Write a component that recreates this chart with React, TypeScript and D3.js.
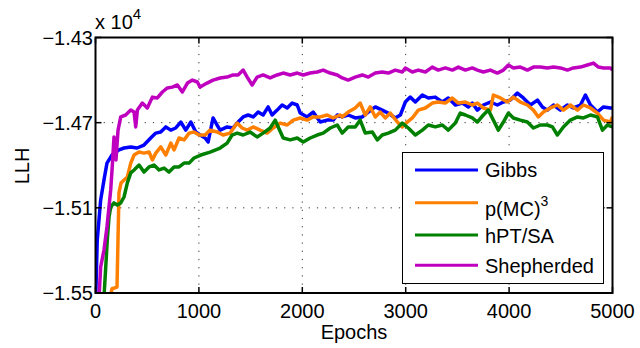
import React from 'react';
import * as d3 from 'd3';

// values (epochs, LLH)
const gibbsEpochs = [2, 17, 50, 82, 111, 160, 227, 276, 341, 402, 469, 534, 583, 631, 680, 728, 776, 825, 873, 922, 970, 1012, 1060, 1089, 1137, 1176, 1205, 1273, 1331, 1379, 1428, 1476, 1525, 1573, 1621, 1670, 1708, 1757, 1805, 1854, 1902, 1951, 1980, 2047, 2105, 2173, 2241, 2299, 2338, 2386, 2444, 2512, 2580, 2638, 2706, 2773, 2831, 2899, 2948, 2996, 3044, 3093, 3161, 3219, 3286, 3354, 3412, 3480, 3548, 3606, 3644, 3693, 3751, 3819, 3886, 3945, 4012, 4080, 4138, 4206, 4274, 4322, 4370, 4429, 4496, 4564, 4622, 4690, 4738, 4787, 4854, 4913, 4980, 5000];
const gibbsLLH = [-15520, -15251, -15063, -14969, -14890, -14852, -14828, -14819, -14814, -14819, -14805, -14772, -14749, -14744, -14720, -14735, -14725, -14697, -14735, -14697, -14744, -14758, -14772, -14791, -14678, -14711, -14735, -14720, -14725, -14697, -14673, -14664, -14673, -14650, -14664, -14626, -14664, -14641, -14617, -14631, -14608, -14617, -14655, -14673, -14650, -14697, -14688, -14688, -14664, -14673, -14664, -14678, -14673, -14650, -14626, -14641, -14655, -14678, -14664, -14603, -14580, -14603, -14570, -14584, -14580, -14603, -14584, -14617, -14608, -14626, -14608, -14641, -14617, -14603, -14617, -14603, -14594, -14561, -14584, -14617, -14594, -14626, -14641, -14617, -14641, -14617, -14631, -14617, -14570, -14617, -14650, -14626, -14631, -14631];

const pmcEpochs = [140, 160, 208, 218, 227, 247, 276, 308, 341, 373, 421, 469, 518, 550, 583, 631, 680, 728, 760, 808, 857, 905, 953, 1002, 1060, 1108, 1176, 1234, 1302, 1370, 1418, 1467, 1525, 1592, 1660, 1718, 1786, 1854, 1912, 1980, 2047, 2105, 2173, 2241, 2299, 2367, 2386, 2444, 2512, 2560, 2609, 2657, 2706, 2754, 2802, 2851, 2919, 2967, 3015, 3064, 3122, 3190, 3257, 3315, 3383, 3451, 3509, 3577, 3644, 3693, 3751, 3819, 3848, 3916, 3983, 4041, 4109, 4177, 4235, 4283, 4332, 4400, 4467, 4525, 4593, 4661, 4719, 4787, 4854, 4913, 4980, 5000];
const pmcLLH = [-15520, -15480, -15472, -15240, -15030, -14983, -14969, -14955, -14890, -14852, -14838, -14843, -14838, -14875, -14843, -14814, -14852, -14796, -14828, -14772, -14781, -14749, -14744, -14758, -14758, -14735, -14744, -14758, -14749, -14702, -14725, -14735, -14720, -14735, -14749, -14725, -14702, -14711, -14688, -14678, -14688, -14673, -14673, -14664, -14678, -14664, -14673, -14650, -14631, -14608, -14664, -14626, -14673, -14650, -14678, -14655, -14697, -14720, -14697, -14678, -14641, -14631, -14608, -14603, -14608, -14584, -14608, -14603, -14617, -14608, -14631, -14641, -14570, -14584, -14603, -14580, -14603, -14617, -14641, -14673, -14650, -14631, -14617, -14641, -14617, -14641, -14617, -14631, -14655, -14688, -14697, -14673];

const hptEpochs = [82, 99, 114, 131, 147, 179, 211, 244, 276, 308, 341, 373, 421, 469, 518, 566, 615, 663, 711, 760, 808, 857, 905, 953, 1018, 1108, 1205, 1273, 1321, 1370, 1428, 1495, 1563, 1621, 1689, 1738, 1767, 1815, 1883, 1951, 2009, 2076, 2144, 2202, 2270, 2338, 2386, 2444, 2512, 2560, 2609, 2677, 2725, 2773, 2831, 2899, 2967, 3025, 3093, 3161, 3219, 3286, 3354, 3412, 3480, 3528, 3577, 3644, 3693, 3751, 3799, 3848, 3896, 3945, 3993, 4041, 4109, 4177, 4235, 4303, 4370, 4419, 4467, 4525, 4593, 4661, 4719, 4787, 4854, 4903, 4951, 5000];
const hptLLH = [-15520, -15378, -15251, -15143, -15096, -15077, -15087, -15077, -15049, -14983, -14936, -14922, -14899, -14932, -14908, -14899, -14922, -14913, -14932, -14908, -14908, -14890, -14890, -14866, -14852, -14838, -14819, -14796, -14758, -14749, -14758, -14744, -14767, -14749, -14725, -14688, -14720, -14772, -14781, -14772, -14791, -14772, -14758, -14749, -14725, -14711, -14749, -14720, -14720, -14688, -14749, -14744, -14781, -14758, -14749, -14735, -14702, -14725, -14758, -14735, -14711, -14720, -14711, -14735, -14702, -14655, -14664, -14678, -14697, -14664, -14641, -14688, -14735, -14697, -14655, -14678, -14688, -14697, -14725, -14711, -14711, -14720, -14758, -14720, -14688, -14673, -14678, -14664, -14673, -14735, -14711, -14720];

const shepEpochs = [34, 50, 82, 111, 147, 160, 179, 198, 218, 244, 292, 341, 373, 389, 405, 453, 501, 550, 598, 647, 695, 743, 792, 840, 889, 937, 985, 1012, 1079, 1137, 1205, 1273, 1331, 1379, 1428, 1467, 1515, 1563, 1621, 1689, 1757, 1815, 1883, 1951, 2009, 2076, 2144, 2202, 2270, 2338, 2386, 2444, 2512, 2580, 2638, 2706, 2773, 2831, 2899, 2967, 2996, 3064, 3122, 3190, 3257, 3315, 3383, 3451, 3509, 3577, 3644, 3693, 3751, 3819, 3886, 3945, 3993, 4041, 4109, 4177, 4235, 4303, 4370, 4429, 4496, 4564, 4622, 4690, 4757, 4816, 4864, 4913, 4980, 5000];
const shepLLH = [-15520, -15378, -15298, -15190, -15016, -14922, -14767, -14875, -14735, -14673, -14664, -14641, -14650, -14720, -14641, -14608, -14631, -14580, -14584, -14556, -14537, -14533, -14523, -14556, -14514, -14500, -14509, -14533, -14514, -14500, -14490, -14486, -14476, -14476, -14453, -14486, -14523, -14486, -14476, -14490, -14476, -14467, -14476, -14467, -14476, -14467, -14462, -14453, -14467, -14476, -14490, -14500, -14486, -14476, -14486, -14467, -14462, -14467, -14453, -14462, -14443, -14462, -14453, -14462, -14439, -14453, -14443, -14453, -14439, -14453, -14443, -14453, -14462, -14453, -14467, -14453, -14429, -14443, -14439, -14453, -14439, -14439, -14443, -14439, -14443, -14453, -14443, -14439, -14429, -14420, -14439, -14443, -14443, -14453];

const seriesNames = ['Gibbs', 'p(MC)', 'hPT/SA', 'Shepherded'];
const seriesColors = ['#0000ff', '#ff8000', '#008000', '#bf00bf'];
const xTicks = [0, 1000, 2000, 3000, 4000, 5000];
const yTicks = [-15500, -15100, -14700, -14300];
const yTickLabels = ['\u22121.55', '\u22121.51', '\u22121.47', '\u22121.43'];

const width = 640;
const height = 348;
const left = 95.5, right = 612.5, top = 37.5, bottom = 293;

const x = d3.scaleLinear().domain([0, 5000]).range([left, right]);
const y = d3.scaleLinear().domain([-15500, -14300]).range([bottom, top]);

const series = [
  { e: gibbsEpochs, v: gibbsLLH },
  { e: pmcEpochs, v: pmcLLH },
  { e: hptEpochs, v: hptLLH },
  { e: shepEpochs, v: shepLLH }
];

const line = d3.line<[number, number]>().x(d => x(d[0])).y(d => y(d[1]));

const font = '"Liberation Sans", Arial, sans-serif';
const legendY = [170, 202.7, 235, 265.3];
const legendTextY = [177, 216, 243, 273];

export default function App() {
  return (
    <svg width={width} height={height} style={{ position: 'fixed', left: 0, top: 0, background: '#fff' }} fontFamily={font}>
      <defs>
        <clipPath id="plot">
          <rect x={left} y={top} width={right - left} height={bottom - top} />
        </clipPath>
      </defs>
      {/* grid */}
      {xTicks.slice(1, -1).map(t => (
        <line key={'gx' + t} x1={x(t)} x2={x(t)} y1={top} y2={bottom} stroke="#333" strokeWidth={1} strokeDasharray="1.2,7" />
      ))}
      {yTicks.slice(1, -1).map(t => (
        <line key={'gy' + t} x1={left} x2={right} y1={y(t)} y2={y(t)} stroke="#333" strokeWidth={1} strokeDasharray="1.2,7" />
      ))}
      {/* series */}
      <g clipPath="url(#plot)">
        {series.map((s, i) => (
          <path
            key={i}
            d={line(s.e.map((e, j) => [e, s.v[j]] as [number, number])) || ''}
            fill="none"
            stroke={seriesColors[i]}
            strokeWidth={3.5}
            strokeLinejoin="round"
          />
        ))}
      </g>
      {/* ticks */}
      {xTicks.map(t => (
        <g key={'tx' + t}>
          <line x1={x(t)} x2={x(t)} y1={bottom} y2={bottom - 6} stroke="#000" strokeWidth={1.5} />
          <line x1={x(t)} x2={x(t)} y1={top} y2={top + 6} stroke="#000" strokeWidth={1.5} />
          <text x={x(t)} y={318} textAnchor="middle" fontSize={20}>{t}</text>
        </g>
      ))}
      {yTicks.map((t, i) => (
        <g key={'ty' + t}>
          <line x1={left} x2={left + 6} y1={y(t)} y2={y(t)} stroke="#000" strokeWidth={1.5} />
          <line x1={right} x2={right - 6} y1={y(t)} y2={y(t)} stroke="#000" strokeWidth={1.5} />
          <text x={93} y={y(t) + 7} textAnchor="end" fontSize={20}>{yTickLabels[i]}</text>
        </g>
      ))}
      <rect x={left} y={top} width={right - left} height={bottom - top} fill="none" stroke="#000" strokeWidth={2} />
      {/* exponent */}
      <text x={95} y={29} fontSize={20}>x 10<tspan dy={-10} fontSize={15}>4</tspan></text>
      {/* axis labels */}
      <text x={354} y={339} textAnchor="middle" fontSize={20}>Epochs</text>
      <text transform="translate(29,166) rotate(-90)" textAnchor="middle" fontSize={20}>LLH</text>
      {/* legend */}
      <rect x={402.5} y={152.5} width={201} height={131} fill="#fff" stroke="#000" strokeWidth={1} />
      {seriesNames.map((n, i) => (
        <g key={'lg' + i}>
          <line x1={415} x2={478} y1={legendY[i]} y2={legendY[i]} stroke={seriesColors[i]} strokeWidth={3} />
          <text x={485} y={legendTextY[i]} fontSize={20}>
            {n}
            {i === 1 ? <tspan dy={-10} fontSize={14}>3</tspan> : null}
          </text>
        </g>
      ))}
    </svg>
  );
}
